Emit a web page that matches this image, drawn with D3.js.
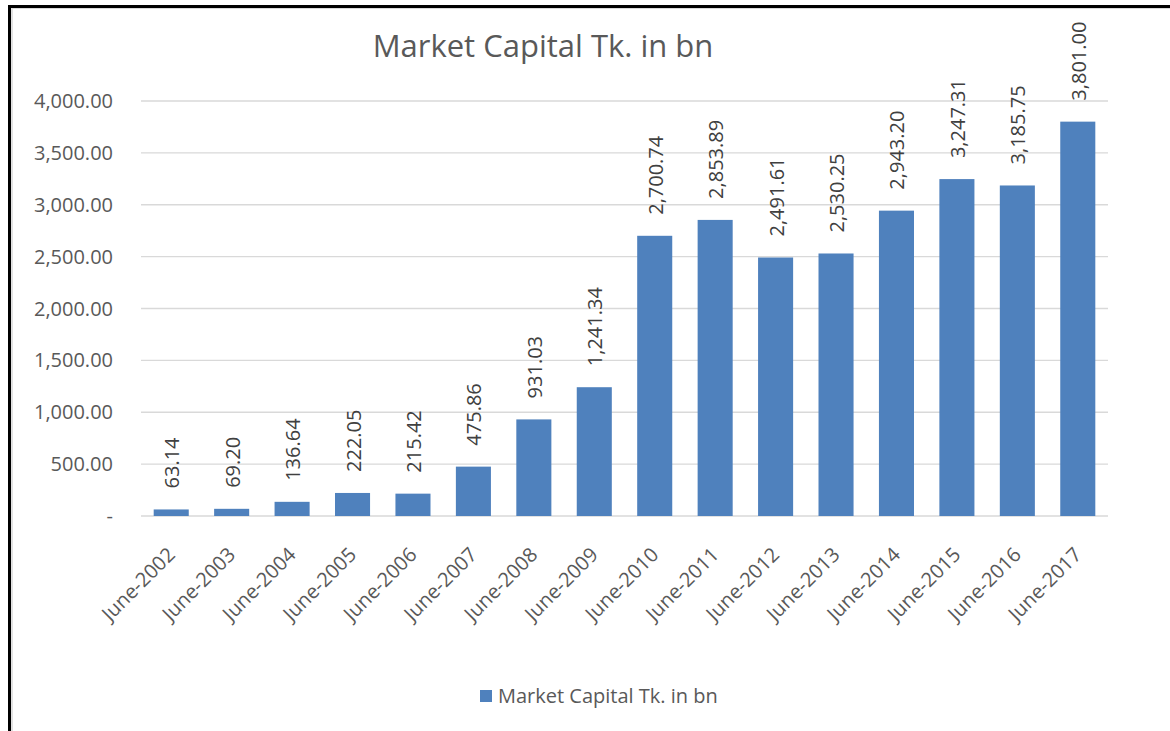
<!DOCTYPE html>
<html>
<head>
<meta charset="utf-8">
<script src="https://cdnjs.cloudflare.com/ajax/libs/d3/7.8.5/d3.min.js"></script>
<style>
  body { margin: 0; background: #fff; }
  svg { display: block; font-family: "Open Sans", "Noto Sans", sans-serif; }
</style>
</head>
<body>
<div id="chart"></div>
<script>
var years = ["June-2002", "June-2003", "June-2004", "June-2005", "June-2006", "June-2007", "June-2008", "June-2009",
  "June-2010", "June-2011", "June-2012", "June-2013", "June-2014", "June-2015", "June-2016", "June-2017"];
var marketCap = [63.14, 69.20, 136.64, 222.05, 215.42, 475.86, 931.03, 1241.34,
  2700.74, 2853.89, 2491.61, 2530.25, 2943.20, 3247.31, 3185.75, 3801.00];
var yTicks = [0, 500, 1000, 1500, 2000, 2500, 3000, 3500, 4000];
var seriesName = "Market Capital Tk. in bn";

var W = 1170, H = 731;
var svg = d3.select("#chart").append("svg").attr("width", W).attr("height", H);

// outer frame (black top and left edge, grey inner line)
svg.append("rect").attr("x", 0).attr("y", 0).attr("width", W).attr("height", H).attr("fill", "#fff");
svg.append("line").attr("x1", 8).attr("x2", W).attr("y1", 6.5).attr("y2", 6.5).attr("stroke", "#000").attr("stroke-width", 3);
svg.append("line").attr("x1", 9.5).attr("x2", 9.5).attr("y1", 5).attr("y2", H).attr("stroke", "#000").attr("stroke-width", 3);
svg.append("line").attr("x1", 12).attr("x2", W).attr("y1", 8.5).attr("y2", 8.5).attr("stroke", "#d9d9d9").attr("stroke-width", 1);
svg.append("line").attr("x1", 12).attr("x2", 12).attr("y1", 8).attr("y2", H).attr("stroke", "#d9d9d9").attr("stroke-width", 1.5);

var x = d3.scaleBand().domain(years).range([141, 1108]).paddingInner(0.42).paddingOuter(0.21);
var y = d3.scaleLinear().domain([0, 4000]).range([516, 101]);

var fmt = d3.format(",.2f");

// gridlines
svg.append("g").selectAll("line").data(yTicks).enter().append("line")
  .attr("x1", 141).attr("x2", 1108)
  .attr("y1", d => y(d)).attr("y2", d => y(d))
  .attr("stroke", "#d9d9d9").attr("stroke-width", 1.3);

// y axis labels
svg.append("g").selectAll("text").data(yTicks).enter().append("text")
  .attr("x", 113).attr("y", d => y(d) + 7)
  .attr("text-anchor", "end")
  .attr("font-size", 20).attr("fill", "#595959")
  .text(d => d === 0 ? "-" : fmt(d));

// bars
svg.append("g").selectAll("rect").data(marketCap).enter().append("rect")
  .attr("x", (d, i) => x(years[i]))
  .attr("y", d => y(d))
  .attr("width", x.bandwidth())
  .attr("height", d => y(0) - y(d))
  .attr("fill", "#4f81bd");

// data labels, rotated
svg.append("g").selectAll("text").data(marketCap).enter().append("text")
  .attr("transform", (d, i) => "translate(" + (x(years[i]) + x.bandwidth() / 2 + 8) + "," + (y(d) - 21) + ") rotate(-90)")
  .attr("text-anchor", "start")
  .attr("font-size", 20).attr("fill", "#404040")
  .text(d => fmt(d));

// x axis labels at 45 degrees
svg.append("g").selectAll("text").data(years).enter().append("text")
  .attr("transform", d => "translate(" + (x(d) + x.bandwidth() / 2 + 5) + "," + 556 + ") rotate(-45)")
  .attr("text-anchor", "end")
  .attr("font-size", 20).attr("fill", "#595959")
  .text(d => d);

// title
svg.append("text")
  .attr("x", 543).attr("y", 57)
  .attr("text-anchor", "middle")
  .attr("font-size", 31).attr("fill", "#595959")
  .text(seriesName);

// legend
var legend = svg.append("g");
legend.append("rect").attr("x", 480).attr("y", 690).attr("width", 12).attr("height", 12).attr("fill", "#4f81bd");
legend.append("text").attr("x", 498).attr("y", 703)
  .attr("font-size", 20).attr("fill", "#595959")
  .text(seriesName);
</script>
</body>
</html>
